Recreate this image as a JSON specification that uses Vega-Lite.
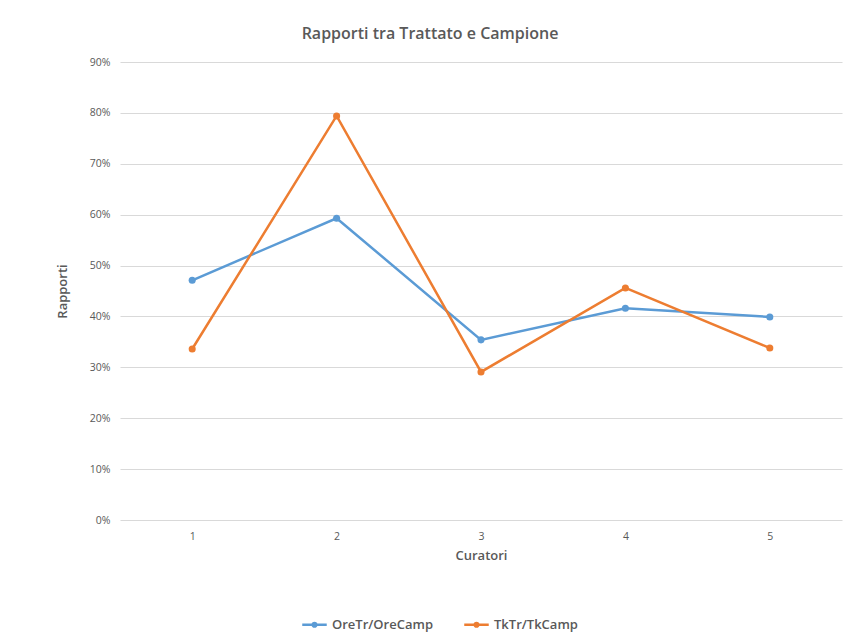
{
  "$schema": "https://vega.github.io/schema/vega-lite/v6.json",
  "width": 722,
  "height": 458,
  "autosize": {"type": "none"},
  "padding": {"left": 120, "top": 62, "right": 4, "bottom": 115},
  "background": "white",
  "title": {
    "text": "Rapporti tra Trattato e Campione",
    "font": "Open Sans",
    "fontSize": 16,
    "fontWeight": 600,
    "color": "#595959",
    "anchor": "middle",
    "dx": -51,
    "offset": 15
  },
  "data": {
    "values": [
      {"Curatori": "1", "serie": "OreTr/OreCamp", "v": 0.471},
      {"Curatori": "2", "serie": "OreTr/OreCamp", "v": 0.593},
      {"Curatori": "3", "serie": "OreTr/OreCamp", "v": 0.354},
      {"Curatori": "4", "serie": "OreTr/OreCamp", "v": 0.416},
      {"Curatori": "5", "serie": "OreTr/OreCamp", "v": 0.399},
      {"Curatori": "1", "serie": "TkTr/TkCamp", "v": 0.336},
      {"Curatori": "2", "serie": "TkTr/TkCamp", "v": 0.794},
      {"Curatori": "3", "serie": "TkTr/TkCamp", "v": 0.291},
      {"Curatori": "4", "serie": "TkTr/TkCamp", "v": 0.456},
      {"Curatori": "5", "serie": "TkTr/TkCamp", "v": 0.338}
    ]
  },
  "mark": {"type": "line", "strokeWidth": 2.5, "point": {"filled": true, "size": 50}},
  "encoding": {
    "x": {
      "field": "Curatori",
      "type": "ordinal",
      "scale": {"type": "point", "padding": 0.5},
      "axis": {
        "title": "Curatori",
        "labelAngle": 0,
        "labelFont": "Open Sans",
        "labelFontSize": 10.5,
        "labelColor": "#595959",
        "labelPadding": 11,
        "ticks": false,
        "domain": false,
        "titleFont": "Open Sans",
        "titleFontSize": 13,
        "titleFontWeight": 600,
        "titleColor": "#595959",
        "titlePadding": 8
      }
    },
    "y": {
      "field": "v",
      "type": "quantitative",
      "scale": {"domain": [0, 0.9], "nice": false},
      "axis": {
        "title": "Rapporti",
        "format": ".0%",
        "values": [0, 0.1, 0.2, 0.3, 0.4, 0.5, 0.6, 0.7, 0.8, 0.9],
        "labelFont": "Open Sans",
        "labelFontSize": 10.5,
        "labelColor": "#595959",
        "labelPadding": 10,
        "ticks": false,
        "domain": false,
        "grid": true,
        "gridColor": "#d9d9d9",
        "gridWidth": 1,
        "titleFont": "Open Sans",
        "titleFontSize": 13,
        "titleFontWeight": 600,
        "titleColor": "#595959",
        "titlePadding": 20
      }
    },
    "color": {
      "field": "serie",
      "type": "nominal",
      "scale": {"domain": ["OreTr/OreCamp", "TkTr/TkCamp"], "range": ["#5B9BD5", "#ED7D31"]},
      "legend": {
        "title": null,
        "orient": "none",
        "direction": "horizontal",
        "legendX": 181,
        "legendY": 549,
        "labelFont": "Open Sans",
        "labelFontSize": 13,
        "labelFontWeight": 600,
        "labelColor": "#595959",
        "symbolType": "M -1 0 L 1 0 M 0.15 0 A 0.15 0.15 0 1 1 -0.15 0 A 0.15 0.15 0 1 1 0.15 0 Z",
        "symbolSize": 600,
        "symbolStrokeWidth": 2.5,
        "columnPadding": 26,
        "labelOffset": 4
      }
    }
  },
  "config": {
    "view": {"stroke": null}
  }
}
